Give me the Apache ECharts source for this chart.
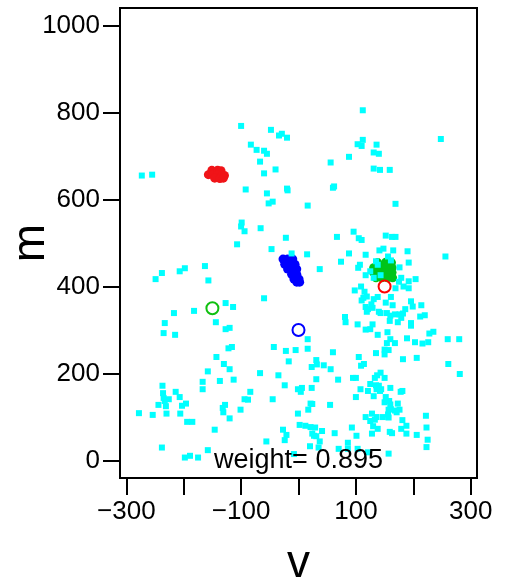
<!DOCTYPE html>
<html><head><meta charset="utf-8">
<script src="https://cdn.jsdelivr.net/npm/echarts@6/dist/echarts.min.js"></script>
<style>html,body{margin:0;padding:0;background:#fff}#c{width:512px;height:580px}</style>
</head><body><div id="c"></div>
<script>
// ---- data ----
const xTicks = [-300, -200, -100, 0, 100, 200, 300];
const xTickLabels = [-300, -100, 100, 300];
const yTicks = [0, 200, 400, 600, 800, 1000];
const weightText = 'weight= 0.895';
const xName = 'v';
const yName = 'm';

const redBlob = [[-151,667],[-141,667],[-135,666],[-157,657],[-149,657],[-141,657],[-133,656],[-129,655],[-146,649],[-137,648],[-131,649]];
const blueBlob = [[-27,463],[-19,463],[-10,463],[-24,451],[-15,451],[-6,451],[-19,440],[-10,440],[-3,440],[-12,428],[-3,428],[-8,417],[1,417],[-3,410],[2,410]];
const greenBlob = [[138,455],[152,456],[162,455],[131,443],[142,443],[152,443],[163,443],[131,432],[142,432],[152,432],[163,432],[135,420],[145,420],[155,420],[164,420]];

const cyanPts = [
[-100,769],[-48,760],[-34,747],[-29,751],[-20,742],[-83,726],[-73,714],[-60,712],[-55,705],[-67,687],[-40,669],[-60,660],[-273,655],[-255,657],[-92,623],[-55,614],[-20,625],[-19,621],[-45,595],[-52,591],[-99,547],[-100,538],[-94,527],[-66,534],[-22,512],
[112,805],[248,739],[112,737],[103,727],[110,723],[136,726],[131,708],[140,705],[88,698],[56,685],[131,671],[142,668],[159,668],[62,630],[60,627],[16,586],[169,590],[96,526],[67,514],[105,511],[110,507],[152,517],[163,514],[169,514],
[-107,497],[-47,486],[-12,476],[-163,447],[-198,442],[-207,435],[-238,431],[-249,417],[-157,414],[-60,373],[-127,362],[-114,353],[-182,344],[-217,339],[-233,316],[-144,318],[-127,302],[-120,305],[-235,293],[-215,289],[-116,261],[-122,258],[-43,261],[-22,252],[-5,254],
[15,474],[37,440],[88,476],[117,473],[141,483],[148,487],[165,483],[190,481],[256,469],[74,457],[104,443],[107,450],[135,458],[138,450],[156,469],[161,460],[192,455],[176,444],[125,435],[117,426],[131,420],[143,426],[179,420],[175,411],[192,412],[204,417],[183,400],[192,396],[169,396],[109,400],[98,391],[115,388],[119,377],[138,376],[131,371],[161,376],[110,368],[113,374],[127,359],[152,363],[196,366],[164,357],[199,354],[214,357],[117,353],[121,348],[129,351],[119,342],[140,342],[143,339],[154,339],[160,333],[168,336],[176,336],[182,338],[186,348],[179,328],[159,321],[173,318],[196,316],[196,310],[212,331],[220,334],[81,330],[82,318],[103,313],[129,313],[117,301],[125,302],[155,295],[138,289],[228,292],[235,296],[189,281],[160,279],[154,270],[168,270],[203,272],[216,269],[226,272],[260,279],[280,279],[16,279],[16,257],[60,249],[150,255],[157,254],[135,247],[150,244],
[109,218],[114,222],[105,238],[182,233],[206,236],[261,222],[281,199],[69,186],[95,190],[100,190],[137,196],[143,202],[150,190],[133,190],[125,176],[135,173],[140,172],[144,164],[136,164],[121,160],[131,148],[142,160],[108,164],[100,146],[160,167],[178,158],[181,160],[152,146],[158,137],[150,134],[160,129],[157,117],[156,106],[161,118],[168,115],[173,131],[176,117],[171,111],[147,100],[157,99],[136,100],[128,108],[117,100],[125,91],[133,94],[130,79],[138,73],[181,93],[188,80],[179,73],[222,103],[223,76],[159,66],[163,63],[188,62],[206,59],[225,48],[223,31],[128,62],[93,76],[63,63],[101,57],[86,41],[70,27],[86,27],[103,27],[121,19],[157,16],
[-17,228],[31,231],[32,221],[23,215],[44,219],[56,210],[-67,201],[-35,196],[31,187],[-24,173],[-1,164],[6,167],[4,158],[23,167],[-84,158],[-94,141],[-88,140],[-45,141],[-101,117],[21,131],[24,130],[17,117],[55,128],[-1,108],[2,82],[12,80],[21,77],[29,76],[-27,71],[41,68],[24,62],[27,57],[31,56],[-21,59],[-24,47],[-56,44],[37,44],[20,33],[35,30],[-8,15],
[-143,238],[-130,222],[-120,210],[-158,205],[-167,181],[-167,164],[-137,183],[-113,186],[-237,172],[-236,155],[-235,144],[-233,137],[-226,141],[-231,125],[-244,128],[-230,108],[-214,158],[-207,146],[-203,126],[-196,131],[-278,109],[-254,105],[-206,108],[-194,89],[-185,89],[-132,121],[-128,128],[-131,111],[-120,97],[-146,71],[-238,30],[-198,7],[-189,11],[-175,7],[-158,24]
];

const greenCenter = [[-150, 350]];
const blueCenter = [[0, 300]];
const redCenter = [[150, 400]];
const labelPos = [[0, 0]];

// ---- chart ----
const FONT = '"Liberation Sans", Arial, Helvetica, sans-serif';
const chart = echarts.init(document.getElementById('c'), null, {renderer: 'canvas'});
const minus = v => String(v).replace('-', '\u2212');

function blob(data, color) {
  return {type: 'scatter', data: data, symbol: 'circle', symbolSize: 9,
    itemStyle: {color: color, opacity: 1}, silent: true};
}
function ring(data, color) {
  return {type: 'scatter', data: data, symbol: 'circle', symbolSize: 12,
    itemStyle: {color: 'rgba(0,0,0,0)', borderColor: color, borderWidth: 2, opacity: 1}, silent: true};
}

chart.setOption({
  animation: false,
  backgroundColor: '#fff',
  grid: {left: 120, right: 35, top: 8, bottom: 102, show: true, borderColor: '#000', borderWidth: 2,
    containLabel: false, outerBoundsMode: 'none'},
  xAxis: {
    type: 'value', min: -311, max: 311,
    name: xName, nameLocation: 'middle', nameGap: 63, nameMoveOverlap: false,
    nameTextStyle: {fontSize: 46, color: '#000', fontFamily: FONT},
    axisLine: {show: true, onZero: false, lineStyle: {color: '#000', width: 2}},
    axisTick: {show: true, length: 17, inside: false, customValues: xTicks, lineStyle: {color: '#000', width: 2}},
    axisLabel: {show: true, customValues: xTickLabels, formatter: minus, fontSize: 26, color: '#000', fontFamily: FONT, margin: 21},
    splitLine: {show: false}
  },
  yAxis: {
    type: 'value', min: -40, max: 1040,
    name: yName, nameLocation: 'middle', nameGap: 66, nameMoveOverlap: false,
    nameTextStyle: {fontSize: 46, color: '#000', fontFamily: FONT},
    axisLine: {show: true, onZero: false, lineStyle: {color: '#000', width: 2}},
    axisTick: {show: true, length: 17, inside: false, customValues: yTicks, lineStyle: {color: '#000', width: 2}},
    axisLabel: {show: true, customValues: yTicks, formatter: minus, fontSize: 26, color: '#000', fontFamily: FONT, margin: 20},
    splitLine: {show: false}
  },
  series: [
    blob(redBlob, '#f01418'),
    blob(blueBlob, '#0000ff'),
    blob(greenBlob, '#00c41a'),
    {type: 'scatter', data: cyanPts, symbol: 'rect', symbolSize: 6,
      itemStyle: {color: '#00ffff', opacity: 1}, silent: true},
    ring(greenCenter, '#10c010'),
    ring(blueCenter, '#0000ff'),
    ring(redCenter, '#ff0000'),
    {type: 'scatter', data: labelPos, symbolSize: 1, itemStyle: {color: 'rgba(0,0,0,0)'},
      label: {show: true, position: 'inside', formatter: weightText, fontSize: 27, color: '#000',
        textBorderWidth: 0, textBorderColor: 'transparent', opacity: 1, fontFamily: FONT},
      silent: true}
  ]
});
</script>
</body></html>
